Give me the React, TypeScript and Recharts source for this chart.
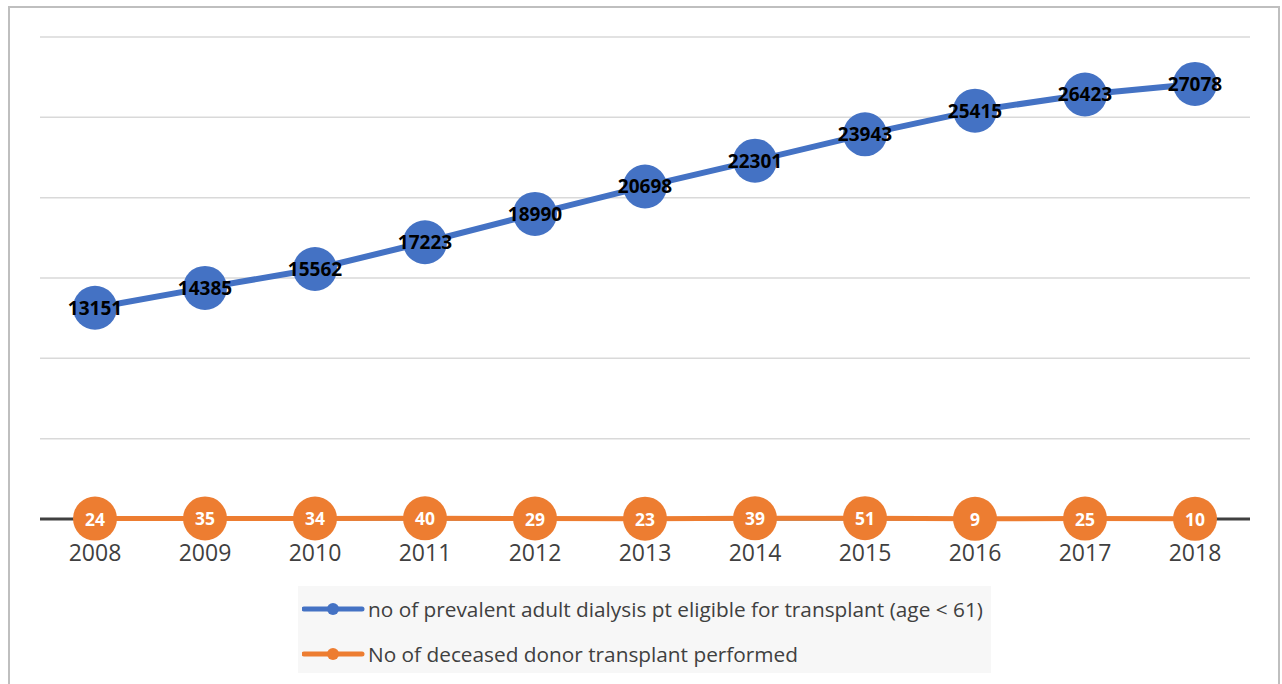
import { LineChart, Line, XAxis, YAxis, CartesianGrid, LabelList, Legend } from "recharts";

const years = ["2008", "2009", "2010", "2011", "2012", "2013", "2014", "2015", "2016", "2017", "2018"];
const eligible = [13151, 14385, 15562, 17223, 18990, 20698, 22301, 23943, 25415, 26423, 27078];
const deceasedDonor = [24, 35, 34, 40, 29, 23, 39, 51, 9, 25, 10];
const yTicks = [0, 5000, 10000, 15000, 20000, 25000, 30000];

const BLUE = "#4472c4";
const ORANGE = "#ed7d31";
const TEXT = "#404040";
const FONT = "'Open Sans', 'Liberation Sans', sans-serif";

const CHART_W = 1282;
const CHART_H = 684;
const MARGIN = { top: 37, right: 32, left: 40, bottom: 125 };
const X_AXIS_H = 40;
const BASELINE_Y = CHART_H - MARGIN.bottom - X_AXIS_H;

const data = years.map((year, i) => ({
  year,
  eligible: eligible[i],
  deceased: deceasedDonor[i],
}));

const legendItems = [
  { color: BLUE, label: "no of prevalent adult dialysis pt eligible for transplant (age < 61)" },
  { color: ORANGE, label: "No of deceased donor transplant performed" },
];

// value drawn in the middle of the marker
const centerLabel = (color: string, size: number) => (props: any) => {
  const { x, y, value } = props;
  return (
    <text
      x={x}
      y={y}
      textAnchor="middle"
      dominantBaseline="central"
      fill={color}
      fontSize={size}
      fontWeight={700}
      fontFamily={FONT}
    >
      {value}
    </text>
  );
};

// grid lines; the zero line doubles as the dark category axis so the series sit on top of it
const gridLine = (props: any) => {
  const { x1, x2, y1, y2 } = props;
  const isBase = Math.abs(y1 - BASELINE_Y) < 1;
  return (
    <line
      key={`g-${y1}`}
      x1={x1}
      x2={x2}
      y1={y1}
      y2={y2}
      stroke={isBase ? TEXT : "#d9d9d9"}
      strokeWidth={isBase ? 3 : 1.5}
    />
  );
};

const renderLegend = () => (
  <div
    style={{
      background: "#f7f7f7",
      width: 693,
      height: 87,
      fontFamily: FONT,
    }}
  >
    {legendItems.map((item) => (
      <div key={item.label} style={{ display: "flex", alignItems: "center", height: 45 }}>
        <svg width={66} height={14} style={{ marginLeft: 4 }}>
          <line x1={2} y1={7} x2={60} y2={7} stroke={item.color} strokeWidth={5} strokeLinecap="round" />
          <circle cx={31} cy={7} r={6} fill={item.color} />
        </svg>
        <span style={{ fontSize: 20.8, color: TEXT, whiteSpace: "nowrap" }}>{item.label}</span>
      </div>
    ))}
  </div>
);

export default function App() {
  return (
    <div
      style={{
        position: "absolute",
        left: 0,
        top: 0,
        width: CHART_W,
        height: CHART_H,
        overflow: "hidden",
        background: "#fff",
      }}
    >
      <div
        style={{
          position: "absolute",
          left: 8,
          top: 6,
          width: 1272,
          height: 700,
          border: "2px solid #bfbfbf",
          boxSizing: "border-box",
        }}
      />
      <div style={{ position: "absolute", left: 0, top: 0 }}>
        <LineChart width={CHART_W} height={CHART_H} data={data} margin={MARGIN}>
          <CartesianGrid vertical={false} horizontal={gridLine} />
          <YAxis hide domain={[0, 30000]} ticks={yTicks} />
          <XAxis
            dataKey="year"
            height={X_AXIS_H}
            padding={{ left: 55, right: 55 }}
            axisLine={false}
            tickLine={false}
            tickSize={0}
            tickMargin={26}
            tick={{ fontSize: 23, fill: TEXT, fontFamily: FONT }}
          />
          <Legend
            layout="vertical"
            align="center"
            verticalAlign="middle"
            content={renderLegend}
            wrapperStyle={{ left: 298, top: 586, width: 693, height: 87 }}
          />
          <Line
            dataKey="eligible"
            stroke={BLUE}
            strokeWidth={6}
            dot={{ r: 22, fill: BLUE, stroke: "none" }}
            activeDot={false}
            isAnimationActive={false}
          >
            <LabelList dataKey="eligible" content={centerLabel("#000", 19)} />
          </Line>
          <Line
            dataKey="deceased"
            stroke={ORANGE}
            strokeWidth={5}
            dot={{ r: 22, fill: ORANGE, stroke: "none" }}
            activeDot={false}
            isAnimationActive={false}
          >
            <LabelList dataKey="deceased" content={centerLabel("#fff", 17.5)} />
          </Line>
        </LineChart>
      </div>
    </div>
  );
}
